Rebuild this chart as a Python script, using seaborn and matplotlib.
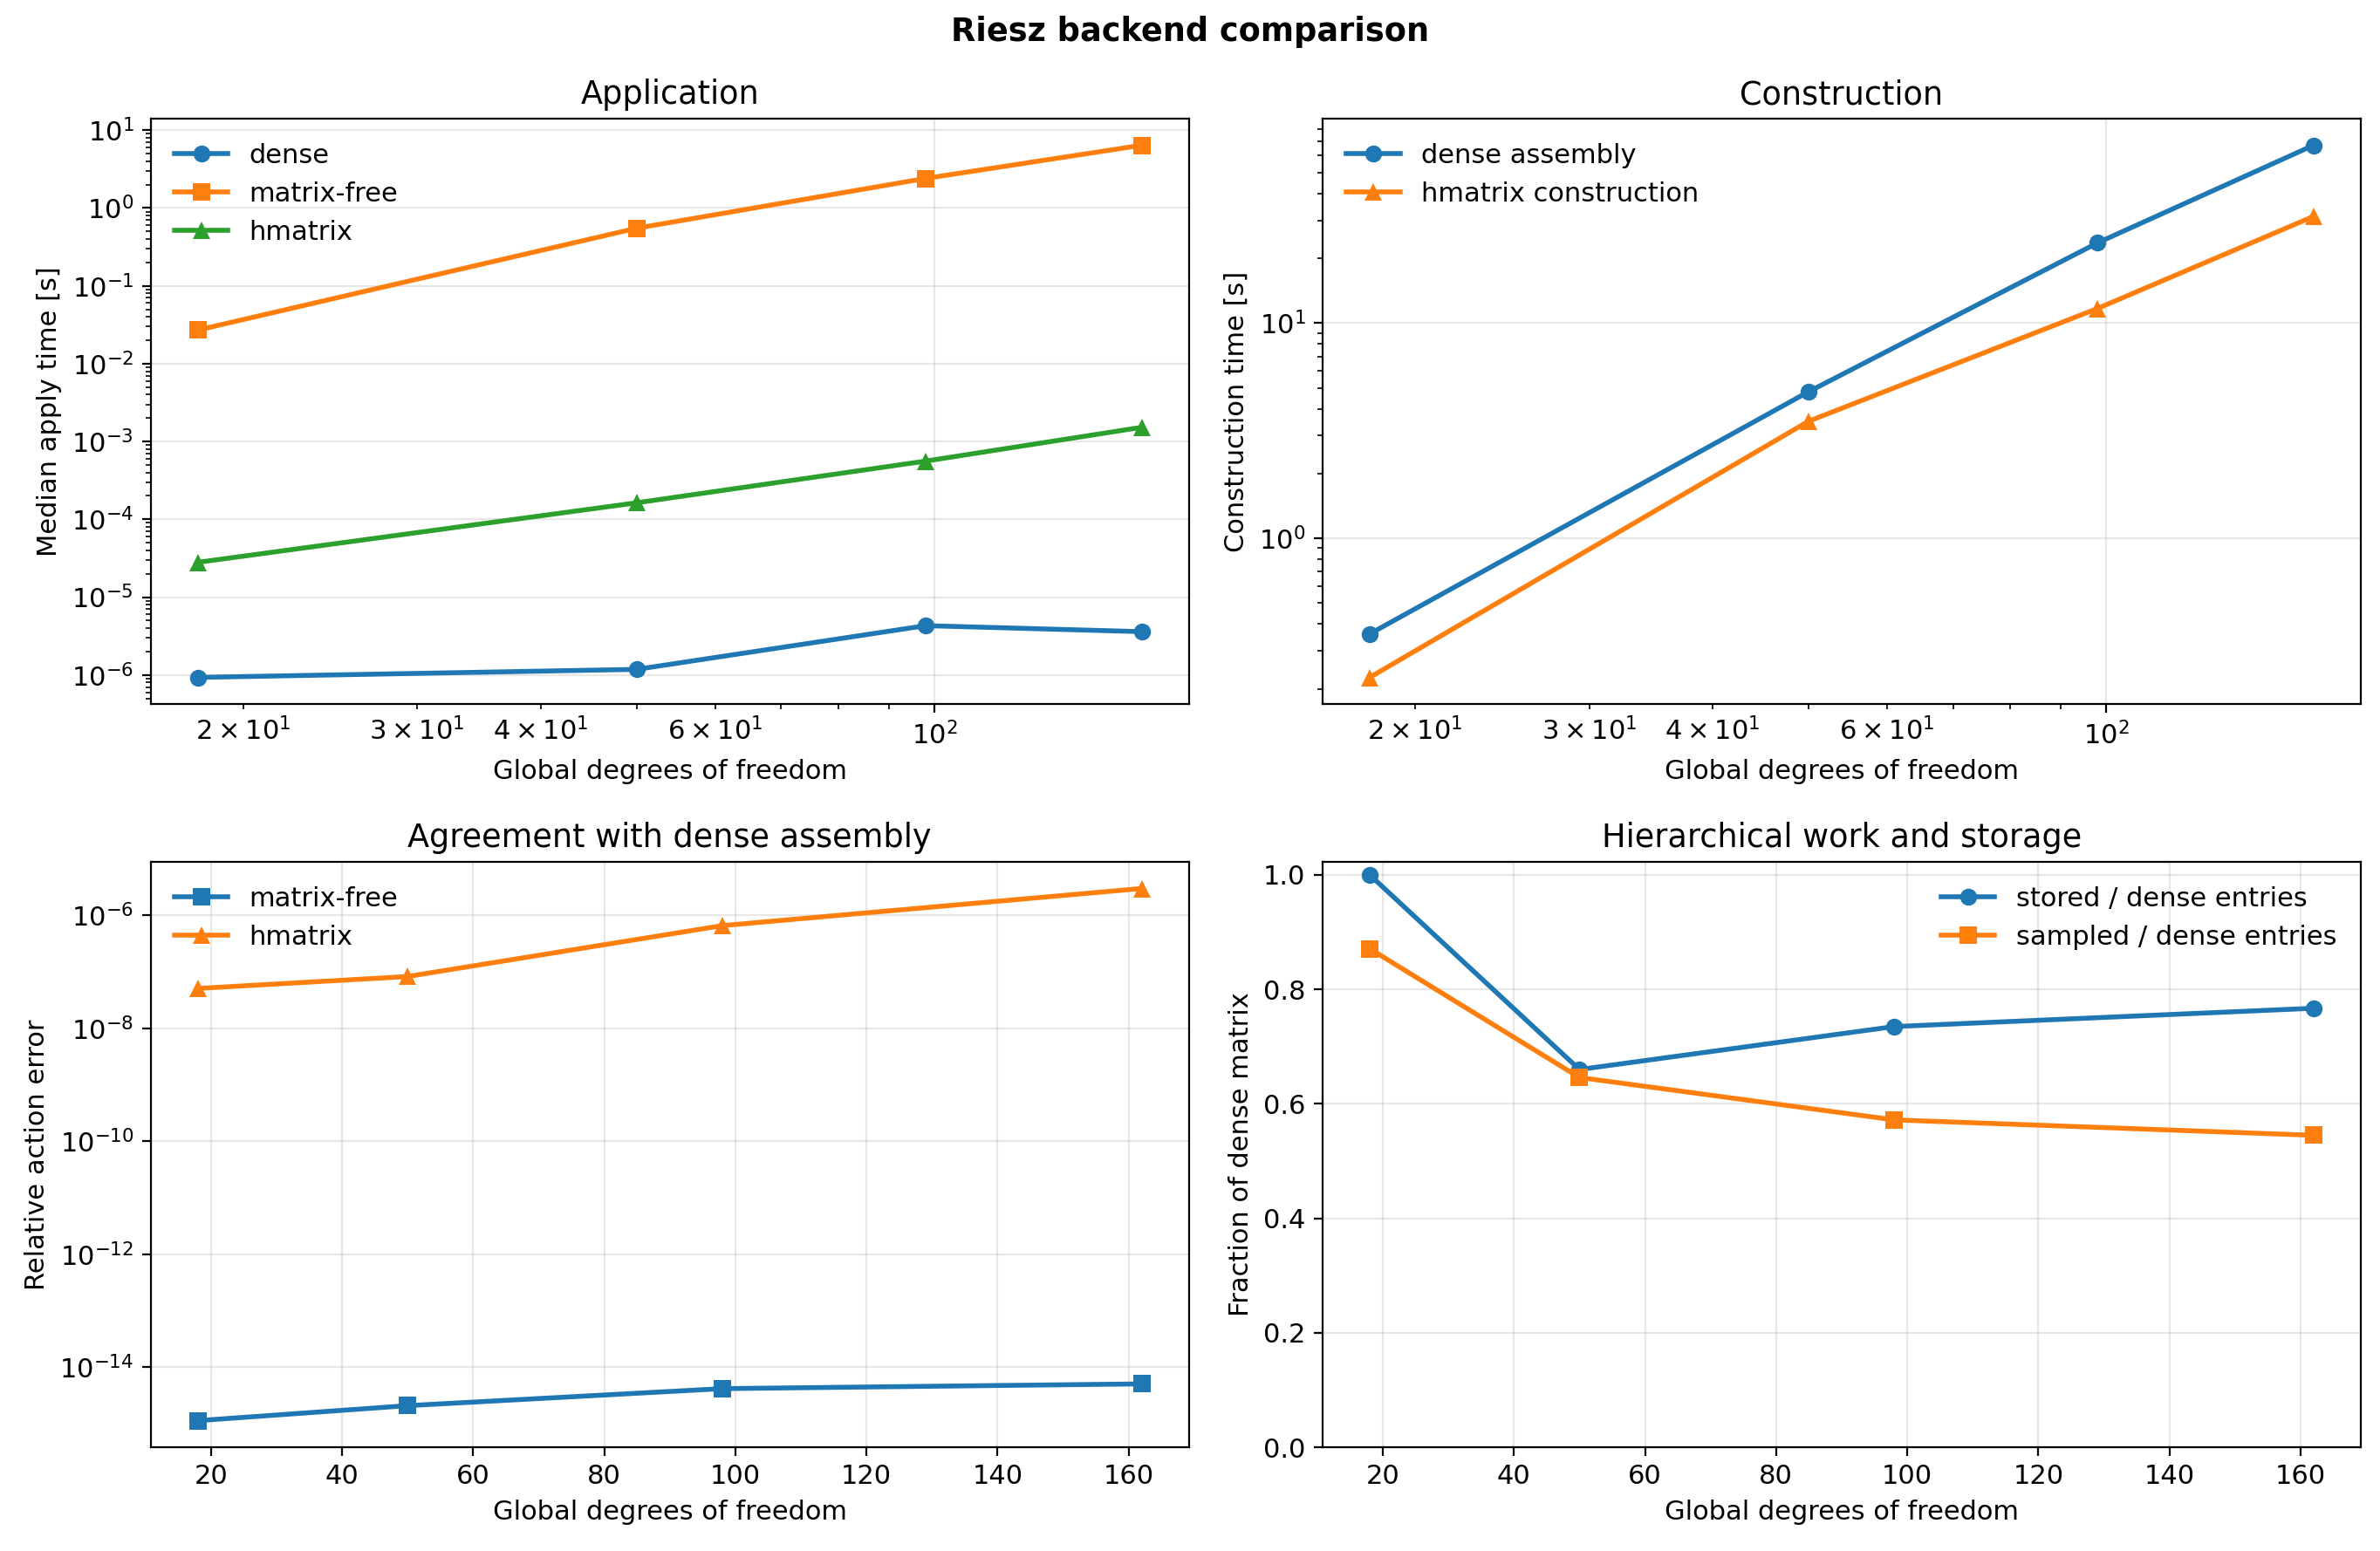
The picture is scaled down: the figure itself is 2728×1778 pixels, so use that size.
import matplotlib
matplotlib.use("Agg")
import matplotlib.pyplot as plt
from matplotlib.ticker import LogFormatterSciNotation
import seaborn as sns
import numpy as np

dofs = [18, 50, 98, 162]

# Application (median apply time, s)
apply_dense = [9.3e-7, 1.18e-6, 4.3e-6, 3.6e-6]
apply_matfree = [0.027, 0.55, 2.4, 6.4]
apply_hmatrix = [2.8e-5, 1.63e-4, 5.6e-4, 1.52e-3]

# Construction time (s)
constr_dense = [0.36, 4.8, 23.6, 67.0]
constr_hmatrix = [0.226, 3.5, 11.7, 31.3]

# Relative action error
err_matfree = [1.14e-15, 2.1e-15, 4.2e-15, 5.1e-15]
err_hmatrix = [5.1e-8, 8.3e-8, 6.6e-7, 3.0e-6]

# Fractions of dense matrix
frac_stored = [1.0, 0.66, 0.735, 0.767]
frac_sampled = [0.871, 0.646, 0.572, 0.545]

plt.rcParams["font.size"] = 11
C = plt.rcParams["axes.prop_cycle"].by_key()["color"]

fig, axes = plt.subplots(2, 2, figsize=(13.64, 8.89), dpi=200)
kw = dict(linewidth=2, markersize=7, markeredgewidth=0)

ax = axes[0, 0]
sns.lineplot(x=dofs, y=apply_dense, marker="o", color=C[0], label="dense", ax=ax, **kw)
sns.lineplot(x=dofs, y=apply_matfree, marker="s", color=C[1], label="matrix-free", ax=ax, **kw)
sns.lineplot(x=dofs, y=apply_hmatrix, marker="^", color=C[2], label="hmatrix", ax=ax, **kw)
ax.set_xscale("log")
ax.set_yscale("log")
ax.set_title("Application")
ax.set_xlabel("Global degrees of freedom")
ax.set_ylabel("Median apply time [s]")
ax.legend(loc="upper left", frameon=False)
ax.grid(True, alpha=0.3)

ax = axes[0, 1]
sns.lineplot(x=dofs, y=constr_dense, marker="o", color=C[0], label="dense assembly", ax=ax, **kw)
sns.lineplot(x=dofs, y=constr_hmatrix, marker="^", color=C[1], label="hmatrix construction", ax=ax, **kw)
ax.set_xscale("log")
ax.set_yscale("log")
ax.set_title("Construction")
ax.set_xlabel("Global degrees of freedom")
ax.set_ylabel("Construction time [s]")
ax.legend(loc="upper left", frameon=False)
ax.grid(True, alpha=0.3)

for a in (axes[0, 0], axes[0, 1]):
    a.xaxis.set_minor_formatter(LogFormatterSciNotation(labelOnlyBase=False, minor_thresholds=(2, 0.4)))

ax = axes[1, 0]
sns.lineplot(x=dofs, y=err_matfree, marker="s", color=C[0], label="matrix-free", ax=ax, **kw)
sns.lineplot(x=dofs, y=err_hmatrix, marker="^", color=C[1], label="hmatrix", ax=ax, **kw)
ax.set_yscale("log")
ax.set_title("Agreement with dense assembly")
ax.set_xlabel("Global degrees of freedom")
ax.set_ylabel("Relative action error")
ax.legend(loc="upper left", frameon=False)
ax.grid(True, alpha=0.3)

ax = axes[1, 1]
sns.lineplot(x=dofs, y=frac_stored, marker="o", color=C[0], label="stored / dense entries", ax=ax, **kw)
sns.lineplot(x=dofs, y=frac_sampled, marker="s", color=C[1], label="sampled / dense entries", ax=ax, **kw)
ax.set_ylim(bottom=0)
ax.set_title("Hierarchical work and storage")
ax.set_xlabel("Global degrees of freedom")
ax.set_ylabel("Fraction of dense matrix")
ax.legend(loc="upper right", frameon=False)
ax.grid(True, alpha=0.3)

fig.suptitle("Riesz backend comparison", fontweight="bold", y=0.99)
fig.subplots_adjust(left=0.0633, right=0.9919, top=0.9235, bottom=0.0669,
                    wspace=0.1288, hspace=0.2697)
fig.savefig("out.png", dpi=200)
